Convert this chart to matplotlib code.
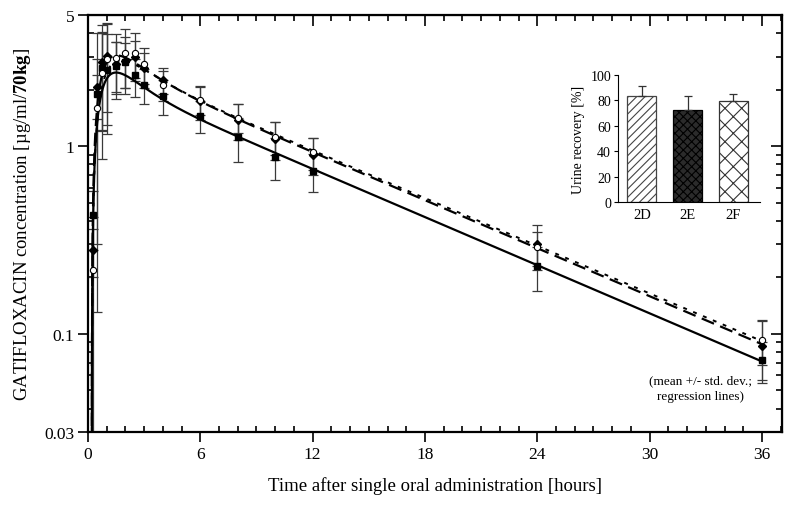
import numpy as np
import matplotlib
matplotlib.use("Agg")
import matplotlib.pyplot as plt
from matplotlib.ticker import FixedLocator, LogLocator, NullFormatter, MultipleLocator

plt.rcParams['font.family'] = ['Liberation Serif', 'DejaVu Serif']
plt.rcParams['mathtext.fontset'] = 'custom'
plt.rcParams['mathtext.rm'] = 'Liberation Serif'
plt.rcParams['mathtext.bf'] = 'Liberation Serif:bold'
plt.rcParams['hatch.linewidth'] = 0.8

# sampling times [h]
t_hours = np.array([0.25, 0.5, 0.75, 1, 1.5, 2, 2.5, 3, 4, 6, 8, 10, 12, 24, 36])

# filled squares (solid line)
sq_mean = np.array([0.43, 1.90, 2.60, 2.56, 2.69, 2.80, 2.38, 2.12, 1.86, 1.45, 1.12, 0.88, 0.74, 0.229, 0.0726])
sq_sd = np.array([0.15, 0.50, 1.40, 1.40, 0.90, 0.75, 0.55, 0.45, 0.40, 0.28, 0.30, 0.22, 0.17, 0.06, 0.018])

# filled diamonds (dashed line)
dia_mean = np.array([0.28, 2.06, 2.82, 3.03, 2.75, 2.85, 2.97, 2.60, 2.25, 1.73, 1.38, 1.09, 0.90, 0.30, 0.0865])
dia_sd = np.array([0.08, 1.93, 1.60, 1.50, 0.85, 0.95, 0.65, 0.55, 0.35, 0.35, 0.30, 0.25, 0.20, 0.08, 0.03])

# open circles (dotted line)
circ_mean = np.array([0.22, 1.60, 2.45, 2.90, 2.95, 3.13, 3.13, 2.75, 2.13, 1.76, 1.42, 1.12, 0.93, 0.29, 0.093])
circ_sd = np.array([0.20, 1.30, 1.60, 1.60, 1.00, 1.10, 0.90, 0.60, 0.40, 0.30, 0.25, 0.22, 0.18, 0.06, 0.025])

# early-phase parameters of the regression lines: tlag, ka, A, alpha
sq_fit = (0.2, 1.7, 2.5, 0.8)
dia_fit = (0.2, 1.8, 2.0, 0.6)
circ_fit = (0.2, 1.4, 2.8, 0.7)

# inset: urine recovery
urine_groups = ['2D', '2E', '2F']
urine_mean = [83.7, 72.7, 79.3]
urine_sd = [7.9, 10.5, 5.7]


def regression_line(t_obs, c_obs, tlag, ka, A, alpha, t_end=36):
    # terminal phase: log-linear regression on the late samples
    late = t_obs >= 6
    slope, lnB = np.polyfit(t_obs[late], np.log(c_obs[late]), 1)
    B, beta = np.exp(lnB), -slope
    tt = tlag + np.geomspace(1e-3, t_end - tlag, 800)
    tau = tt - tlag
    c = (B * np.exp(-beta * tt) + A * np.exp(-alpha * tau)
         - (B * np.exp(-beta * tlag) + A) * np.exp(-ka * tau))
    return tt, c


fig = plt.figure(figsize=(8, 5.06), dpi=100)
ax = fig.add_axes([0.11, 0.1443, 0.8675, 0.8241])

err_kw = dict(fmt='none', ecolor='#3a3a3a', elinewidth=0.9, capsize=3.5, capthick=0.9, zorder=2)
ax.errorbar(t_hours, sq_mean, yerr=sq_sd, **err_kw)
ax.errorbar(t_hours, dia_mean, yerr=dia_sd, **err_kw)
ax.errorbar(t_hours, circ_mean, yerr=circ_sd, **err_kw)

tt, c = regression_line(t_hours, sq_mean, *sq_fit)
ax.plot(tt, c, color='black', lw=1.6, ls='-', zorder=3)
tt, c = regression_line(t_hours, dia_mean, *dia_fit)
ax.plot(tt, c, color='black', lw=1.6, ls=(0, (6, 3)), zorder=3)
tt, c = regression_line(t_hours, circ_mean, *circ_fit)
ax.plot(tt, c, color='black', lw=1.4, ls=(0, (2, 3.5)), zorder=3)

ax.plot(t_hours, sq_mean, 's', color='black', ms=4.5, zorder=4)
ax.plot(t_hours, dia_mean, 'D', color='black', ms=4.5, zorder=4)
ax.plot(t_hours, circ_mean, 'o', mfc='white', mec='black', mew=0.8, ms=4.5, zorder=5)

ax.set_yscale('log')
ax.set_xlim(0, 37.07)
ax.set_ylim(0.03, 5)
ax.set_xticks(range(0, 37, 6))
ax.xaxis.set_minor_locator(MultipleLocator(1))
ax.yaxis.set_major_locator(FixedLocator([0.03, 0.1, 1, 5]))
ax.set_yticklabels(['0.03', '0.1', '1', '5'])
ax.yaxis.set_minor_locator(LogLocator(base=10, subs=np.arange(2, 10)))
ax.yaxis.set_minor_formatter(NullFormatter())
ax.tick_params(which='major', direction='out', length=7, width=1.2, labelsize=12.5, pad=3)
ax.tick_params(which='minor', direction='in', length=4, width=1.2)
for s in ax.spines.values():
    s.set_linewidth(1.6)

# inward ticks on top and right
top = ax.secondary_xaxis('top')
top.set_xticks(range(0, 37, 6))
top.xaxis.set_minor_locator(MultipleLocator(1))
top.tick_params(which='major', direction='in', length=8, width=1.2, labeltop=False)
top.tick_params(which='minor', direction='in', length=4, width=1.2)
right = ax.secondary_yaxis('right')
right.yaxis.set_major_locator(FixedLocator([0.03, 0.1, 1, 5]))
right.yaxis.set_minor_locator(LogLocator(base=10, subs=np.arange(2, 10)))
right.tick_params(which='major', direction='in', length=8, width=1.2, labelright=False)
right.tick_params(which='minor', direction='in', length=4, width=1.2, labelright=False)
right.yaxis.set_minor_formatter(NullFormatter())

ax.set_xlabel('Time after single oral administration [hours]', fontsize=13.5, labelpad=10)
ax.set_ylabel(r'GATIFLOXACIN concentration [µg/ml/$\mathbf{70kg}$]', fontsize=13.5, labelpad=8)

ax.text(0.882, 0.105, '(mean +/- std. dev.;\nregression lines)', transform=ax.transAxes,
        ha='center', va='center', fontsize=9.5, linespacing=1.5)

# inset bar chart
ins = fig.add_axes([0.7725, 0.5988, 0.1775, 0.251])
x = np.arange(len(urine_groups))
styles = [dict(facecolor='white', edgecolor='#444444', hatch='////'),
          dict(facecolor='#2b2b2b', edgecolor='black', hatch='xxxx'),
          dict(facecolor='white', edgecolor='#333333', hatch='xx')]
for i in range(len(urine_groups)):
    ins.bar(x[i], urine_mean[i], width=0.63, lw=0.9, **styles[i])
    ins.errorbar(x[i], urine_mean[i], yerr=[[0], [urine_sd[i]]], fmt='none',
                 ecolor='#333333', elinewidth=0.9, capsize=3, capthick=0.9)
ins.set_xlim(-0.52, 2.58)
ins.set_ylim(0, 100)
ins.set_yticks(range(0, 101, 20))
ins.set_xticks(x)
ins.set_xticklabels(urine_groups)
ins.spines['top'].set_visible(False)
ins.spines['right'].set_visible(False)
ins.tick_params(axis='y', direction='out', length=3, labelsize=10, pad=2)
ins.tick_params(axis='x', length=0, labelsize=10.5, pad=4)
ins.set_ylabel('Urine recovery [%]', fontsize=10, labelpad=4)

fig.savefig('out.png', dpi=100)
